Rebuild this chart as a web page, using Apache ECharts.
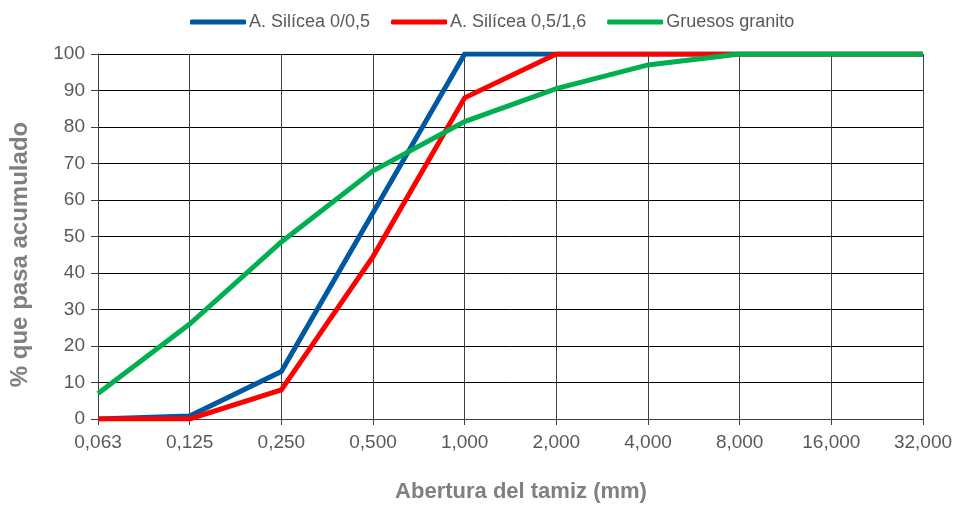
<!DOCTYPE html>
<html>
<head>
<meta charset="utf-8">
<script src="https://cdn.jsdelivr.net/npm/echarts@6/dist/echarts.min.js"></script>
<style>
  html, body { margin: 0; padding: 0; background: #fff; }
  #chart { width: 962px; height: 508px; }
</style>
</head>
<body>
<div id="chart"></div>
<script>
// Sieve openings (mm) and cumulative percent passing for each aggregate
const sieves = ['0,063', '0,125', '0,250', '0,500', '1,000', '2,000', '4,000', '8,000', '16,000', '32,000'];
const arenaFina = [0, 0.8, 13, 56.5, 100, 100, 100, 100, 100, 100];
const arenaGruesa = [0, 0, 8, 44.5, 88, 100, 100, 100, 100, 100];
const granito = [7, 26, 48.5, 68, 81.5, 90.5, 97, 100, 100, 100];

const font = '"Liberation Sans", Arial, sans-serif';
const chart = echarts.init(document.getElementById('chart'));

function line(name, data, color) {
  return {
    name, type: 'line', data,
    symbol: 'none',
    lineStyle: { color, width: 5, cap: 'butt', join: 'miter' },
    itemStyle: { color },
    animation: false
  };
}

chart.setOption({
  animation: false,
  legend: {
    top: 8, left: 185,
    itemWidth: 56, itemHeight: 5, itemGap: 21,
    icon: 'roundRect',
    textStyle: { color: '#595959', fontFamily: font, fontSize: 18, padding: [0, 0, 0, -2] },
    data: ['A. Silícea 0/0,5', 'A. Silícea 0,5/1,6', 'Gruesos granito']
  },
  grid: { left: 95, right: 39, top: 54, bottom: 87 },
  xAxis: {
    type: 'category', data: sieves, boundaryGap: false,
    name: 'Abertura del tamiz (mm)', nameLocation: 'middle', nameGap: 62,
    nameTextStyle: { color: '#808080', fontFamily: font, fontSize: 22, fontWeight: 'bold', padding: [0, 0, 0, 21] },
    axisLine: { lineStyle: { color: '#404040', width: 1 } },
    axisTick: { show: true, length: 6, lineStyle: { color: '#404040' } },
    axisLabel: { color: '#595959', fontFamily: font, fontSize: 19, margin: 14 },
    splitLine: { show: true, lineStyle: { color: '#404040', width: 1 } }
  },
  yAxis: {
    type: 'value', min: 0, max: 100, interval: 10,
    name: '% que pasa acumulado', nameLocation: 'middle', nameGap: 66,
    nameTextStyle: { color: '#808080', fontFamily: font, fontSize: 24, fontWeight: 'bold', padding: [0, 36, 0, 0] },
    axisLine: { show: true, lineStyle: { color: '#404040', width: 1 } },
    axisTick: { show: true, length: 7, lineStyle: { color: '#404040' } },
    axisLabel: { color: '#595959', fontFamily: font, fontSize: 19, margin: 13 },
    splitLine: { show: true, lineStyle: { color: '#000000', width: 1 } }
  },
  series: [
    line('A. Silícea 0/0,5', arenaFina, '#0058A0'),
    line('A. Silícea 0,5/1,6', arenaGruesa, '#FF0000'),
    line('Gruesos granito', granito, '#00B050')
  ]
});
</script>
</body>
</html>
